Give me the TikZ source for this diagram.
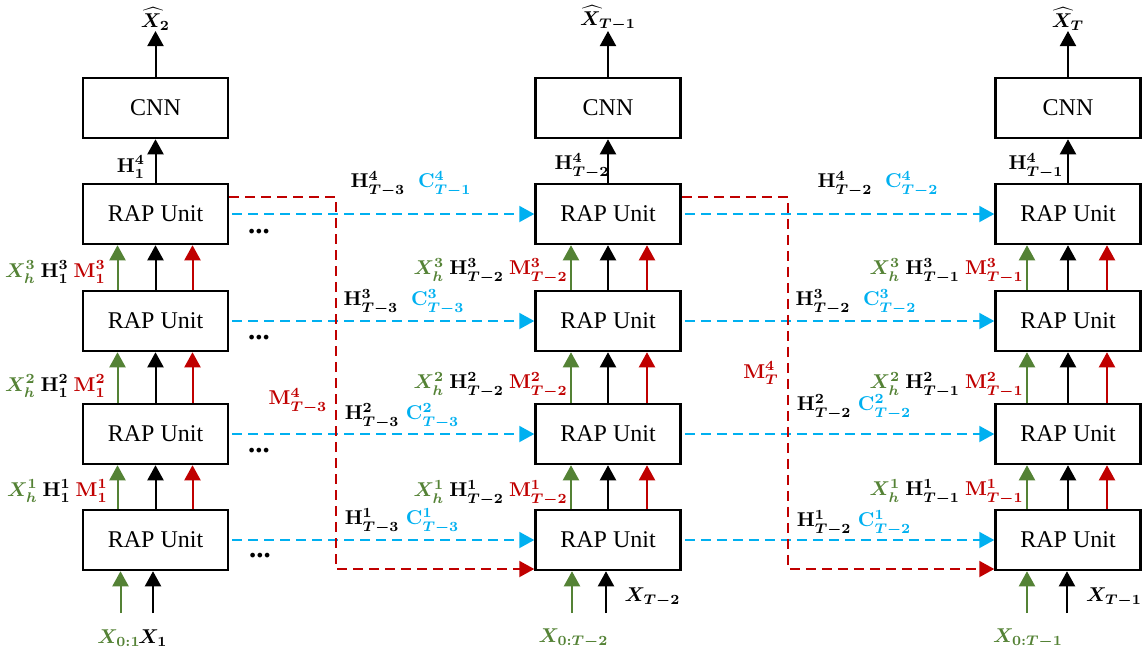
\documentclass[tikz,border=0pt]{standalone}
\usepackage[no-math]{fontspec}
\setmainfont{Liberation Serif}
\usepackage{amsmath}
\usetikzlibrary{arrows.meta,calc}
\definecolor{mygreen}{HTML}{548235}
\definecolor{myred}{HTML}{C00000}
\definecolor{myblue}{HTML}{00B0F0}
\begin{document}
\begin{tikzpicture}[x=0.5pt,y=-0.5pt,
  unitbox/.style={draw, line width=1.25pt, minimum width=72.5pt, minimum height=30pt, inner sep=0pt, font=\fontsize{12}{14}\selectfont},
  tip/.style={-{Triangle[width=8pt,length=7.5pt]}},
  karr/.style={tip, line width=1pt, black},
  garr/.style={tip, line width=1pt, mygreen},
  rarr/.style={tip, line width=1pt, myred},
  bline/.style={tip, line width=1pt, myblue, dash pattern=on 5pt off 3pt, shorten <=1.5pt},
  rline/.style={tip, line width=1pt, myred, dash pattern=on 5pt off 3pt},
  lbl/.style={inner sep=0pt, font=\fontsize{10}{12}\selectfont\boldmath},
  dotsnode/.style={inner sep=0pt, font=\Large\bfseries, anchor=base},
]
\useasboundingbox (0,0) rectangle (1142,655);

% columns of units
\foreach \cc/\xx/\go/\ro in {1/155.5/-38/37, 2/608/-37/39, 3/1068/-41/39} {
  \node[unitbox] (cnn\cc) at (\xx,108) {CNN};
  \node[unitbox] (u1\cc) at (\xx,214) {RAP Unit};
  \node[unitbox] (u2\cc) at (\xx,321) {RAP Unit};
  \node[unitbox] (u3\cc) at (\xx,434) {RAP Unit};
  \node[unitbox] (u4\cc) at (\xx,540) {RAP Unit};
  \draw[karr] (u1\cc) -- (cnn\cc);
  \foreach \lw/\up in {2/1,3/2,4/3} {
    \draw[garr] ($(u\lw\cc.north)+(\go,0)$) -- ($(u\up\cc.south)+(\go,0)$);
    \draw[karr] (u\lw\cc) -- (u\up\cc);
    \draw[rarr] ($(u\lw\cc.north)+(\ro,0)$) -- ($(u\up\cc.south)+(\ro,0)$);
  }
}

% outputs
\node[lbl, anchor=south] (xh1) at (155.5,31) {$\widehat{X}_2$};
\node[lbl, anchor=south] (xh2) at (608,31) {$\widehat{X}_{T-1}$};
\node[lbl, anchor=south] (xh3) at (1068,31) {$\widehat{X}_{T}$};
\foreach \cc in {1,2,3} { \draw[karr] (cnn\cc) -- (xh\cc); }

% H^4 labels under CNN
\node[lbl] (h1) at (131,167) {$\mathbf{H}_1^4$};
\node[lbl] (h2) at (582,166) {$\mathbf{H}_{T-2}^4$};
\node[lbl] (h3) at (1036,166) {$\mathbf{H}_{T-1}^4$};

% inputs
\coordinate (g1) at (120.5,613);
\coordinate (b1) at (153,613);
\coordinate (g2) at (572,613);
\coordinate (b2) at (606,613);
\coordinate (g3) at (1027,613);
\coordinate (b3) at (1067,613);
\foreach \cc in {1,2,3} {
  \draw[garr] (g\cc) -- (g\cc |- u4\cc.south);
  \draw[karr] (b\cc) -- (b\cc |- u4\cc.south);
}
\node[lbl, text=mygreen] (xin1) at (119,638) {$X_{0:1}$};
\node[lbl] (xo1) at (153,638) {$X_1$};
\node[lbl, text=mygreen] (xin2) at (573.5,638) {$X_{0:T-2}$};
\node[lbl] (xo2) at (652.5,597) {$X_{T-2}$};
\node[lbl, text=mygreen] (xin3) at (1028,638) {$X_{0:T-1}$};
\node[lbl] (xo3) at (1114,597) {$X_{T-1}$};

% labels left of the vertical arrows
\node[lbl, anchor=east] (a31) at (106,272) {$\color{mygreen}X_h^3$ $\mathbf{H}_1^3$ $\color{myred}\mathbf{M}_1^3$};
\node[lbl, anchor=east] (a21) at (106,386) {$\color{mygreen}X_h^2$ $\mathbf{H}_1^2$ $\color{myred}\mathbf{M}_1^2$};
\node[lbl, anchor=east] (a11) at (108,491) {$\color{mygreen}X_h^1$ $\mathbf{H}_1^1$ $\color{myred}\mathbf{M}_1^1$};
\node[lbl, anchor=east] (a32) at (568,271) {$\color{mygreen}X_h^3$ $\mathbf{H}_{T-2}^3$ $\color{myred}\mathbf{M}_{T-2}^3$};
\node[lbl, anchor=east] (a22) at (568,385) {$\color{mygreen}X_h^2$ $\mathbf{H}_{T-2}^2$ $\color{myred}\mathbf{M}_{T-2}^2$};
\node[lbl, anchor=east] (a12) at (568,493) {$\color{mygreen}X_h^1$ $\mathbf{H}_{T-2}^1$ $\color{myred}\mathbf{M}_{T-2}^1$};
\node[lbl, anchor=east] (a33) at (1024,271) {$\color{mygreen}X_h^3$ $\mathbf{H}_{T-1}^3$ $\color{myred}\mathbf{M}_{T-1}^3$};
\node[lbl, anchor=east] (a23) at (1024,385) {$\color{mygreen}X_h^2$ $\mathbf{H}_{T-1}^2$ $\color{myred}\mathbf{M}_{T-1}^2$};
\node[lbl, anchor=east] (a13) at (1024,492) {$\color{mygreen}X_h^1$ $\mathbf{H}_{T-1}^1$ $\color{myred}\mathbf{M}_{T-1}^1$};

% horizontal blue dashed connectors
\foreach \rr in {1,2,3,4} {
  \draw[bline] (u\rr1) -- (u\rr2);
  \draw[bline] (u\rr2) -- (u\rr3);
}

% dots
\node[dotsnode] (d1) at (259,233.5) {...};
\node[dotsnode] (d2) at (259,339.5) {...};
\node[dotsnode] (d3) at (259,452.5) {...};
\node[dotsnode] (d4) at (260,557.5) {...};

% labels of horizontal connectors
\node[lbl] (l11) at (411,184) {$\mathbf{H}^4_{T-3}\;\;{\color{myblue}\mathbf{C}^4_{T-1}}$};
\node[lbl] (l21) at (404,302) {$\mathbf{H}^3_{T-3}\;\;{\color{myblue}\mathbf{C}^3_{T-3}}$};
\node[lbl] (l31) at (402,416) {$\mathbf{H}^2_{T-3}\;{\color{myblue}\mathbf{C}^2_{T-3}}$};
\node[lbl] (l41) at (402,521) {$\mathbf{H}^1_{T-3}\;{\color{myblue}\mathbf{C}^1_{T-3}}$};
\node[lbl] (l12) at (878,184) {$\mathbf{H}^4_{T-2}\;\;{\color{myblue}\mathbf{C}^4_{T-2}}$};
\node[lbl] (l22) at (856,302) {$\mathbf{H}^3_{T-2}\;\;{\color{myblue}\mathbf{C}^3_{T-2}}$};
\node[lbl] (l32) at (854,407) {$\mathbf{H}^2_{T-2}\;{\color{myblue}\mathbf{C}^2_{T-2}}$};
\node[lbl] (l42) at (854,523) {$\mathbf{H}^1_{T-2}\;{\color{myblue}\mathbf{C}^1_{T-2}}$};

% red dashed memory connectors
\coordinate (m1) at (336,569);
\coordinate (m2) at (788,569);
\draw[rline] ($(u11.east)+(0,-17)$) -| (m1) -- (m1 -| u42.west);
\draw[rline] ($(u12.east)+(0,-17)$) -| (m2) -- (m2 -| u43.west);
\node[lbl, text=myred] (mt1) at (298,401) {$\mathbf{M}^4_{T-3}$};
\node[lbl, text=myred] (mt2) at (761,373) {$\mathbf{M}^4_{T}$};
\end{tikzpicture}
\end{document}
